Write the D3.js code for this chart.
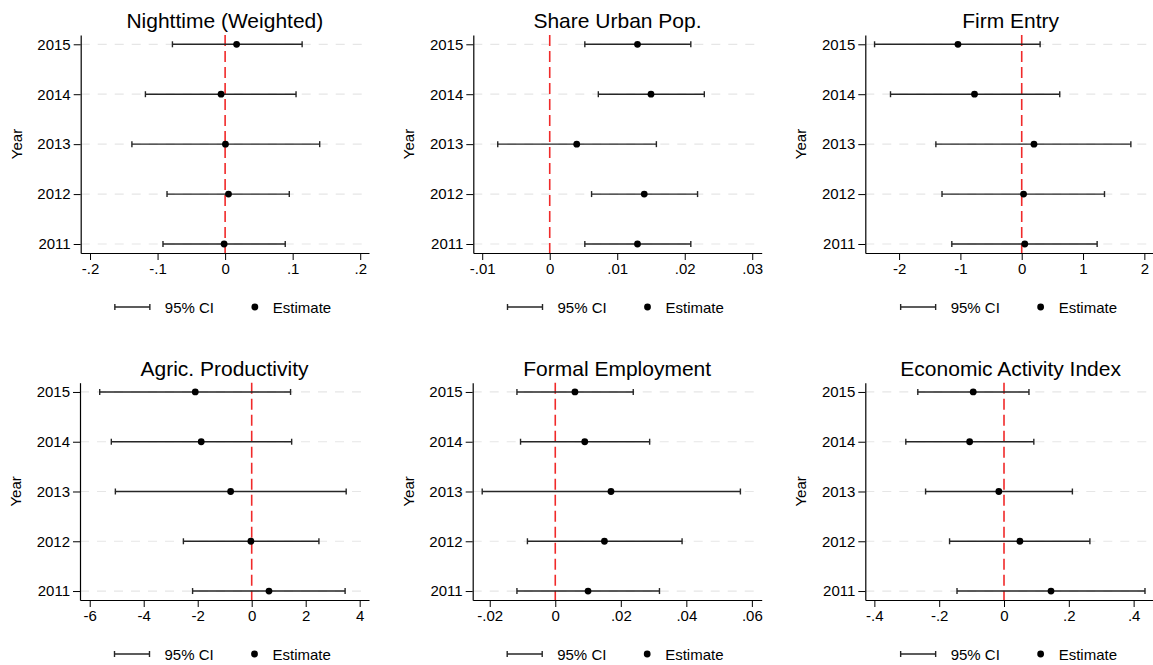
<!DOCTYPE html>
<html>
<head>
<meta charset="utf-8">
<script src="https://cdn.jsdelivr.net/npm/d3@7"></script>
<style>
  html, body { margin: 0; padding: 0; background: #fff; }
  svg { display: block; font-family: "Liberation Sans", Arial, Helvetica, sans-serif; }
</style>
</head>
<body>
<svg id="chart" width="1153" height="665"></svg>
<script>
// ---------- data ----------
const years = [2011, 2012, 2013, 2014, 2015];
const titles = ["Nighttime (Weighted)", "Share Urban Pop.", "Firm Entry",
                "Agric. Productivity", "Formal Employment", "Economic Activity Index"];

// estimates (ordered by years)
const estNight = [-0.0015, 0.005, 0.0005, -0.006, 0.017];
const loNight  = [-0.092, -0.086, -0.138, -0.118, -0.078];
const hiNight  = [0.089, 0.095, 0.140, 0.105, 0.114];

const estUrban = [0.0130, 0.0140, 0.0040, 0.0150, 0.0130];
const loUrban  = [0.0052, 0.0062, -0.0077, 0.0072, 0.0052];
const hiUrban  = [0.0209, 0.0219, 0.0158, 0.0229, 0.0209];

const estFirm = [0.05, 0.03, 0.20, -0.77, -1.04];
const loFirm  = [-1.14, -1.30, -1.40, -2.14, -2.40];
const hiFirm  = [1.23, 1.35, 1.78, 0.62, 0.30];

const estAgric = [0.64, -0.03, -0.78, -1.87, -2.09];
const loAgric  = [-2.19, -2.53, -5.05, -5.20, -5.63];
const hiAgric  = [3.46, 2.49, 3.50, 1.48, 1.44];

const estFormal = [0.0100, 0.0150, 0.0170, 0.0090, 0.0060];
const loFormal  = [-0.0117, -0.0085, -0.0223, -0.0106, -0.0117];
const hiFormal  = [0.0318, 0.0387, 0.0565, 0.0288, 0.0238];

const estEcon = [0.145, 0.049, -0.016, -0.106, -0.095];
const loEcon  = [-0.145, -0.168, -0.242, -0.303, -0.266];
const hiEcon  = [0.435, 0.265, 0.211, 0.092, 0.077];

// x axis ticks and labels
const ticksNight = [-0.2, -0.1, 0, 0.1, 0.2];
const labelsNight = ["-.2", "-.1", "0", ".1", ".2"];
const ticksUrban = [-0.01, 0, 0.01, 0.02, 0.03];
const labelsUrban = ["-.01", "0", ".01", ".02", ".03"];
const ticksFirm = [-2, -1, 0, 1, 2];
const labelsFirm = ["-2", "-1", "0", "1", "2"];
const ticksAgric = [-6, -4, -2, 0, 2, 4];
const labelsAgric = ["-6", "-4", "-2", "0", "2", "4"];
const ticksFormal = [-0.02, 0, 0.02, 0.04, 0.06];
const labelsFormal = ["-.02", "0", ".02", ".04", ".06"];
const ticksEcon = [-0.4, -0.2, 0, 0.2, 0.4];
const labelsEcon = ["-.4", "-.2", "0", ".2", ".4"];

// x axis ranges (value extents of each plot region)
const domNight = [-0.2138, 0.2130];
const domUrban = [-0.01132, 0.0314];
const domFirm = [-2.551, 2.19];
const domAgric = [-6.36, 4.345];
const domFormal = [-0.0252, 0.0630];
const domEcon = [-0.428, 0.469];

const yearLabel = "Year";
const legendCI = "95% CI";
const legendEst = "Estimate";

// ---------- layout ----------
const panels = [
  { title: titles[0], est: estNight, lo: loNight, hi: hiNight, ticks: ticksNight, labels: labelsNight, dom: domNight, x0: 80.7, x1: 369, row: 0 },
  { title: titles[1], est: estUrban, lo: loUrban, hi: hiUrban, ticks: ticksUrban, labels: labelsUrban, dom: domUrban, x0: 473.3, x1: 761.7, row: 0 },
  { title: titles[2], est: estFirm, lo: loFirm, hi: hiFirm, ticks: ticksFirm, labels: labelsFirm, dom: domFirm, x0: 865.3, x1: 1156, row: 0 },
  { title: titles[3], est: estAgric, lo: loAgric, hi: hiAgric, ticks: ticksAgric, labels: labelsAgric, dom: domAgric, x0: 80, x1: 369, row: 1 },
  { title: titles[4], est: estFormal, lo: loFormal, hi: hiFormal, ticks: ticksFormal, labels: labelsFormal, dom: domFormal, x0: 472.7, x1: 761.7, row: 1 },
  { title: titles[5], est: estEcon, lo: loEcon, hi: hiEcon, ticks: ticksEcon, labels: labelsEcon, dom: domEcon, x0: 865.3, x1: 1156, row: 1 }
];
const rows = [ { y0: 35, y1: 253 }, { y0: 382.7, y1: 600 } ];

const svg = d3.select("#chart");
const FONT = 15;
const CI_COL = "#262626";
const RED = "#f02a2a";
const TXT = "#000";

panels.forEach(p => {
  const r = rows[p.row];
  const g = svg.append("g");
  const x = d3.scaleLinear().domain(p.dom).range([p.x0, p.x1]);
  const y = d3.scaleLinear().domain([2010.82, 2015.186]).range([r.y1, r.y0]);
  const cx = (p.x0 + p.x1) / 2;

  // gridlines
  g.selectAll(".grid").data(years).enter().append("line")
    .attr("x1", p.x0).attr("x2", p.x1)
    .attr("y1", d => y(d)).attr("y2", d => y(d))
    .attr("stroke", "#e6e6e6").attr("stroke-width", 1.2)
    .attr("stroke-dasharray", "9,8");

  // zero line
  g.append("line")
    .attr("x1", x(0)).attr("x2", x(0))
    .attr("y1", r.y0).attr("y2", r.y1)
    .attr("stroke", RED).attr("stroke-width", 1.6)
    .attr("stroke-dasharray", "11,5");

  // axes
  const xAxis = d3.axisBottom(x).tickValues(p.ticks)
    .tickFormat((d, i) => p.labels[i]).tickSize(7).tickPadding(3).tickSizeOuter(0);
  const gx = g.append("g").attr("transform", `translate(0,${r.y1})`).call(xAxis);
  gx.select(".domain").attr("stroke", "#000").attr("stroke-width", 1.2);
  gx.selectAll(".tick line").attr("stroke", "#000").attr("stroke-width", 1);
  gx.selectAll(".tick text").attr("font-size", FONT).attr("fill", TXT)
    .attr("font-family", "Liberation Sans, Arial, sans-serif");

  const yAxis = d3.axisLeft(y).tickValues(years).tickFormat(d3.format("d"))
    .tickSize(7).tickPadding(3).tickSizeOuter(0);
  const gy = g.append("g").attr("transform", `translate(${p.x0},0)`).call(yAxis);
  gy.select(".domain").attr("stroke", "#000").attr("stroke-width", 1.2);
  gy.selectAll(".tick line").attr("stroke", "#000").attr("stroke-width", 1);
  gy.selectAll(".tick text").attr("font-size", FONT).attr("fill", TXT)
    .attr("font-family", "Liberation Sans, Arial, sans-serif");

  // Year label
  g.append("text")
    .attr("transform", `translate(${p.x0 - 59},${(r.y0 + r.y1) / 2}) rotate(-90)`)
    .attr("text-anchor", "middle").attr("font-size", FONT).attr("fill", TXT)
    .text(yearLabel);

  // title
  g.append("text")
    .attr("x", cx).attr("y", r.y0 - 7)
    .attr("text-anchor", "middle").attr("font-size", 21).attr("fill", TXT)
    .text(p.title);

  // CIs
  const rowsData = years.map((yr, i) => ({ yr, est: p.est[i], lo: p.lo[i], hi: p.hi[i] }));
  const ci = g.selectAll(".ci").data(rowsData).enter().append("g");
  ci.append("line")
    .attr("x1", d => x(d.lo)).attr("x2", d => x(d.hi))
    .attr("y1", d => y(d.yr)).attr("y2", d => y(d.yr))
    .attr("stroke", CI_COL).attr("stroke-width", 1.4);
  ci.append("line")
    .attr("x1", d => x(d.lo)).attr("x2", d => x(d.lo))
    .attr("y1", d => y(d.yr) - 3).attr("y2", d => y(d.yr) + 3)
    .attr("stroke", CI_COL).attr("stroke-width", 1.4);
  ci.append("line")
    .attr("x1", d => x(d.hi)).attr("x2", d => x(d.hi))
    .attr("y1", d => y(d.yr) - 3).attr("y2", d => y(d.yr) + 3)
    .attr("stroke", CI_COL).attr("stroke-width", 1.4);
  ci.append("circle")
    .attr("cx", d => x(d.est)).attr("cy", d => y(d.yr)).attr("r", 3.4)
    .attr("fill", "#000");

  // legend
  const ly = r.y1 + 54;
  const lg = g.append("g");
  lg.append("line").attr("x1", cx - 110).attr("x2", cx - 75).attr("y1", ly).attr("y2", ly)
    .attr("stroke", CI_COL).attr("stroke-width", 1.4);
  lg.append("line").attr("x1", cx - 110).attr("x2", cx - 110).attr("y1", ly - 3).attr("y2", ly + 3)
    .attr("stroke", CI_COL).attr("stroke-width", 1.4);
  lg.append("line").attr("x1", cx - 75).attr("x2", cx - 75).attr("y1", ly - 3).attr("y2", ly + 3)
    .attr("stroke", CI_COL).attr("stroke-width", 1.4);
  lg.append("text").attr("x", cx - 60).attr("y", ly + 5.5).attr("font-size", FONT)
    .attr("fill", TXT).text(legendCI);
  lg.append("circle").attr("cx", cx + 30).attr("cy", ly).attr("r", 3.4).attr("fill", "#000");
  lg.append("text").attr("x", cx + 48).attr("y", ly + 5.5).attr("font-size", FONT)
    .attr("fill", TXT).text(legendEst);
});
</script>
</body>
</html>
